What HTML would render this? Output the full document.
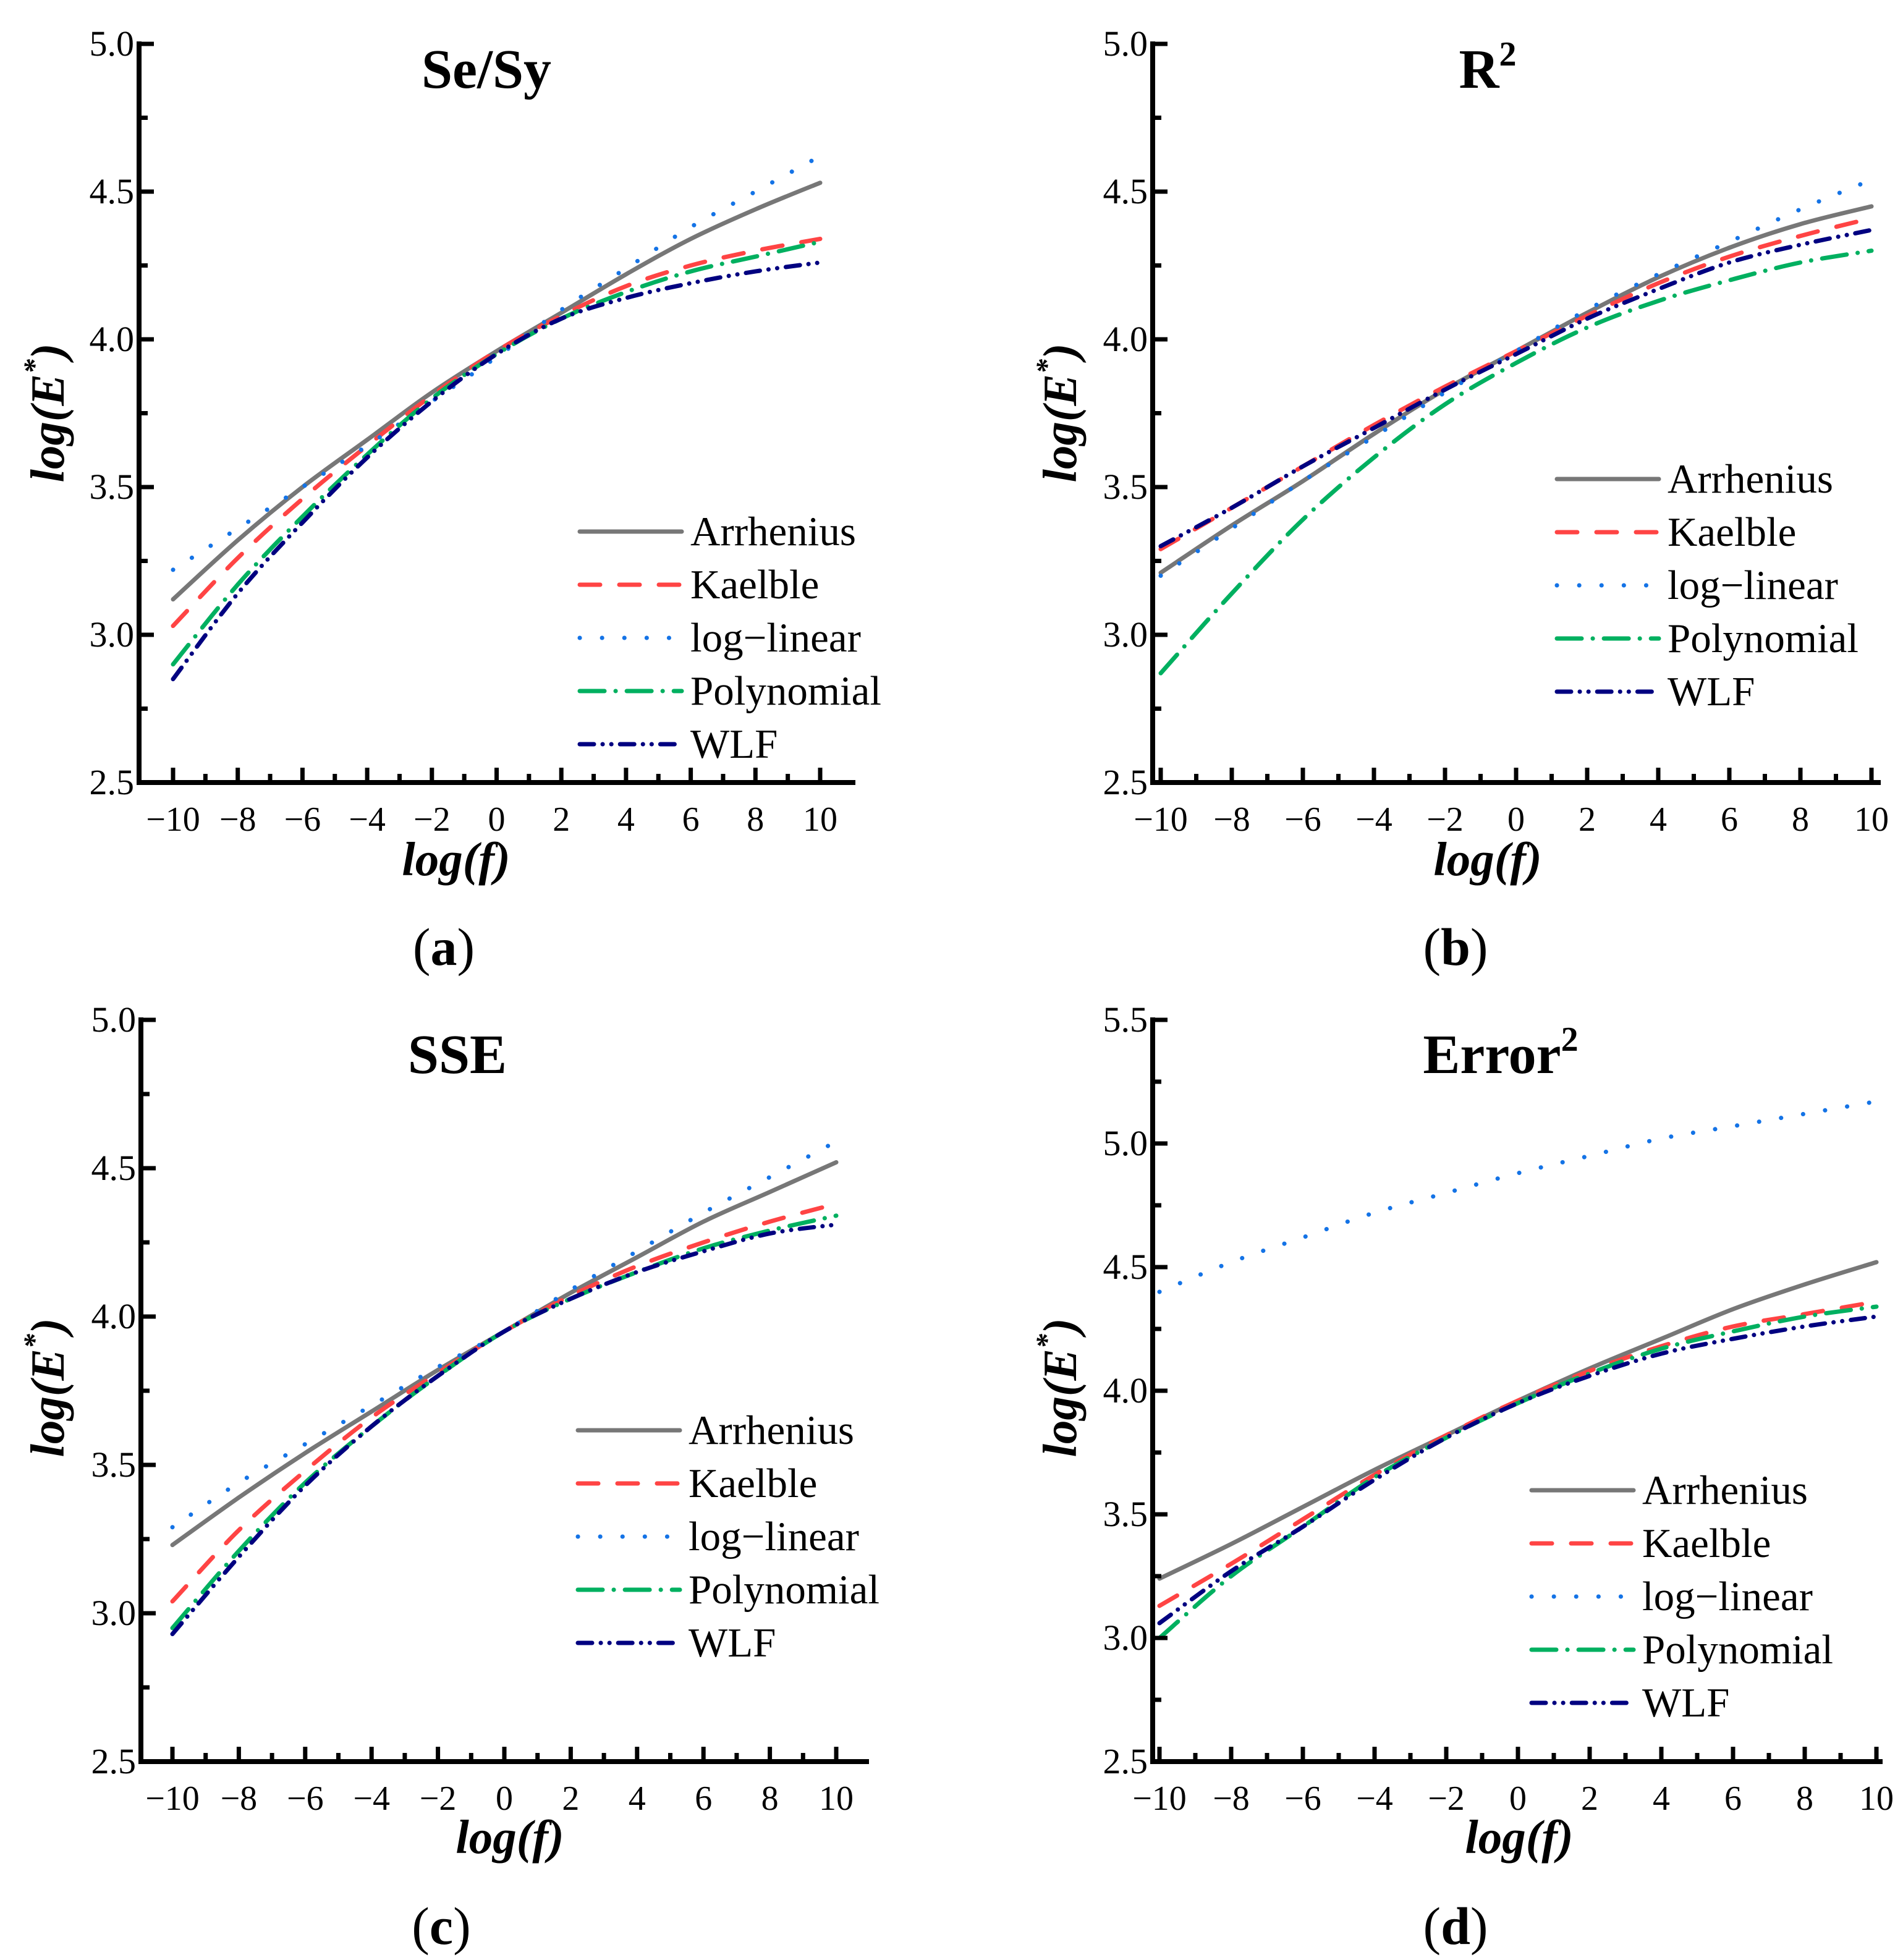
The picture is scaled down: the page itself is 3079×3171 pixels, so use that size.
<!DOCTYPE html>
<html><head><meta charset="utf-8"><style>
html,body{margin:0;padding:0;background:#fff;}
svg{display:block;}
text{font-family:"Liberation Serif",serif;fill:#000;}
</style></head><body>
<svg id="fig" width="3079" height="3171" viewBox="0 0 3079 3171" xmlns="http://www.w3.org/2000/svg"></svg>
<script>
const xValues = [-10,-8,-6,-4,-2,0,2,4,6,8,10];
const seriesNames = ["Arrhenius","Kaelble","log\u2212linear","Polynomial","WLF"];
const xTickLabels = ["\u221210","\u22128","\u22126","\u22124","\u22122","0","2","4","6","8","10"];
const yTicksA = ["2.5","3.0","3.5","4.0","4.5","5.0"];
const yTicksD = ["2.5","3.0","3.5","4.0","4.5","5.0","5.5"];
// panel a: Se/Sy
const aArrhenius = [3.12,3.32,3.50,3.66,3.82,3.96,4.09,4.22,4.34,4.44,4.53];
const aKaelble = [3.03,3.26,3.46,3.64,3.81,3.96,4.08,4.18,4.25,4.30,4.34];
const aLogLinear = [3.22,3.36,3.50,3.64,3.79,3.94,4.10,4.24,4.38,4.50,4.62];
const aPolynomial = [2.90,3.17,3.40,3.61,3.80,3.95,4.07,4.16,4.23,4.28,4.33];
const aWLF = [2.85,3.14,3.38,3.60,3.79,3.95,4.07,4.14,4.19,4.23,4.26];
// panel b: R2
const bArrhenius = [3.21,3.37,3.52,3.68,3.83,3.96,4.09,4.21,4.31,4.39,4.45];
const bKaelble = [3.29,3.43,3.57,3.71,3.84,3.96,4.08,4.19,4.28,4.35,4.41];
const bLogLinear = [3.20,3.36,3.52,3.67,3.82,3.96,4.10,4.22,4.33,4.44,4.54];
const bPolynomial = [2.87,3.14,3.39,3.60,3.78,3.92,4.04,4.13,4.20,4.26,4.30];
const bWLF = [3.30,3.43,3.57,3.70,3.83,3.95,4.07,4.17,4.26,4.32,4.37];
// panel c: SSE
const cArrhenius = [3.23,3.39,3.54,3.68,3.82,3.95,4.08,4.20,4.32,4.42,4.52];
const cKaelble = [3.04,3.28,3.48,3.66,3.81,3.95,4.07,4.17,4.25,4.32,4.38];
const cLogLinear = [3.29,3.44,3.57,3.70,3.83,3.95,4.09,4.22,4.35,4.47,4.59];
const cPolynomial = [2.95,3.21,3.44,3.63,3.80,3.95,4.06,4.15,4.23,4.29,4.34];
const cWLF = [2.93,3.19,3.43,3.63,3.80,3.95,4.06,4.15,4.22,4.28,4.31];
// panel d: Error2
const dArrhenius = [3.24,3.38,3.53,3.68,3.82,3.96,4.09,4.21,4.33,4.43,4.52];
const dKaelble = [3.13,3.30,3.48,3.66,3.82,3.96,4.08,4.18,4.26,4.31,4.36];
const dLogLinear = [4.40,4.52,4.62,4.72,4.80,4.88,4.95,5.02,5.07,5.12,5.17];
const dPolynomial = [3.00,3.25,3.45,3.65,3.81,3.95,4.07,4.17,4.24,4.30,4.34];
const dWLF = [3.06,3.27,3.45,3.64,3.81,3.95,4.06,4.15,4.21,4.26,4.30];

const NS = "http://www.w3.org/2000/svg";
const svg = document.getElementById('fig');
const styles = [
  {c:"#777777", d:""},
  {c:"#ff4444", d:"33 31"},
  {c:"#1473e6", d:"0.1 36"},
  {c:"#00b060", d:"40 18 0.1 18"},
  {c:"#000080", d:"23 14 0.1 14 0.1 14"}
];
function mk(tag, attrs, parent){
  const e = document.createElementNS(NS, tag);
  for (const k in attrs) e.setAttribute(k, attrs[k]);
  (parent||svg).appendChild(e);
  return e;
}
function smooth(pts){
  let d = "M"+pts[0][0]+","+pts[0][1];
  for (let i=0;i<pts.length-1;i++){
    const p0=pts[Math.max(0,i-1)], p1=pts[i], p2=pts[i+1], p3=pts[Math.min(pts.length-1,i+2)];
    const c1=[p1[0]+(p2[0]-p0[0])/6, p1[1]+(p2[1]-p0[1])/6];
    const c2=[p2[0]-(p3[0]-p1[0])/6, p2[1]-(p3[1]-p1[1])/6];
    d += " C"+c1[0].toFixed(1)+","+c1[1].toFixed(1)+" "+c2[0].toFixed(1)+","+c2[1].toFixed(1)+" "+p2[0].toFixed(1)+","+p2[1].toFixed(1);
  }
  return d;
}
function panel(P){
  const g = mk('g', {});
  
  
  const sx = v => P.x0 + (v+10)/20*(P.x1-P.x0);
  const sy = v => P.yb - (v-P.ymin)/(P.ymax-P.ymin)*(P.yb-P.yt);
  P.series.forEach((arr,si)=>{
    const pts = xValues.map((x,i)=>[sx(x), sy(arr[i])]);
    const p = mk('path', {d:smooth(pts), fill:"none", stroke:styles[si].c, "stroke-width":7, "stroke-linecap":"round", "stroke-dasharray":styles[si].d}, g);
    
    
  });
  const ax = mk('path', {d:"M"+P.ax+","+(P.yt-4)+" V"+P.yb+" H"+P.xend, fill:"none", stroke:"#000", "stroke-width":8}, g);
  
  
  for (let v=-10; v<=10; v++){
    const major = v%2===0;
    mk('line', {x1:sx(v), x2:sx(v), y1:P.yb, y2:P.yb-(major?24:14), stroke:"#000", "stroke-width":7}, g);
  }
  xValues.forEach((v,i)=>{
    const t = mk('text', {x:sx(v), y:P.yb+78, "font-size":56, "text-anchor":"middle"}, g);
    t.textContent = xTickLabels[i];
    
    
  });
  for (let v=P.ymin; v<=P.ymax+1e-6; v+=0.25){
    const major = Math.abs(v*2-Math.round(v*2))<1e-6;
    mk('line', {x1:P.ax, x2:P.ax+(major?24:14), y1:sy(v), y2:sy(v), stroke:"#000", "stroke-width":7}, g);
  }
  P.yLabels.forEach(lbl=>{
    const t = mk('text', {x:P.ax-8, y:sy(parseFloat(lbl))+19, "font-size":58, "text-anchor":"end"}, g);
    t.textContent = lbl;
    
    
  });
  const tt = mk('text', {x:P.tx, y:P.ty+31, "font-size":90, "font-weight":"bold", "text-anchor":"middle"}, g);
  tt.innerHTML = P.title;
  
  
  const xt = mk('text', {x:P.xtx, y:P.xty+24, "font-size":77, "font-weight":"bold", "font-style":"italic", "text-anchor":"middle"}, g);
  xt.textContent = "log(f)";
  
  
  const yt = mk('text', {x:0, y:0, "font-size":77, "font-weight":"bold", "font-style":"italic", "text-anchor":"middle", transform:"translate("+(P.ytx+26)+","+P.yty+") rotate(-90)"}, g);
  yt.innerHTML = 'log(<tspan>E</tspan><tspan dy="-32" font-size="48">*</tspan><tspan dy="32">)</tspan>';
  
  
  const pl = mk('text', {x:P.px, y:P.py+30, "font-size":86, "text-anchor":"middle"}, g);
  pl.innerHTML = '(<tspan font-weight="bold">'+P.id+'</tspan>)';
  
  
  const lg = mk('g', {}, g);
  
  
  seriesNames.forEach((n,si)=>{
    const y = P.ly + si*86;
    const e = mk('g', {}, lg);
    
    
    mk('line', {x1:P.lx, x2:P.lx+165, y1:y, y2:y, stroke:styles[si].c, "stroke-width":7, "stroke-linecap":"round", "stroke-dasharray":styles[si].d}, e);
    const t = mk('text', {x:P.lx+179, y:y+22, "font-size":67}, e);
    t.textContent = n;
  });
}
panel({id:"a", x0:280, x1:1327, xend:1384, ax:225, yt:71, yb:1266, ymin:2.5, ymax:5.0, yLabels:yTicksA,
  series:[aArrhenius,aKaelble,aLogLinear,aPolynomial,aWLF], title:"Se/Sy", tx:787, ty:111,
  xtx:738, xty:1392, ytx:77, yty:668, px:718, py:1531, lx:938, ly:860});
panel({id:"b", x0:1878, x1:3028, xend:3043, ax:1865, yt:71, yb:1266, ymin:2.5, ymax:5.0, yLabels:yTicksA,
  series:[bArrhenius,bKaelble,bLogLinear,bPolynomial,bWLF], title:'R<tspan dy="-36" font-size="56">2</tspan>', tx:2407, ty:111,
  xtx:2407, xty:1392, ytx:1715, yty:668, px:2355, py:1531, lx:2519, ly:775});
panel({id:"c", x0:279, x1:1353, xend:1406, ax:228, yt:1650, yb:2850, ymin:2.5, ymax:5.0, yLabels:yTicksA,
  series:[cArrhenius,cKaelble,cLogLinear,cPolynomial,cWLF], title:"SSE", tx:740, ty:1705,
  xtx:825, xty:2974, ytx:77, yty:2245, px:714, py:3115, lx:935, ly:2314});
panel({id:"d", x0:1876, x1:3036, xend:3046, ax:1865, yt:1650, yb:2850, ymin:2.5, ymax:5.5, yLabels:yTicksD,
  series:[dArrhenius,dKaelble,dLogLinear,dPolynomial,dWLF], title:'Error<tspan dy="-36" font-size="56">2</tspan>', tx:2428, ty:1705,
  xtx:2458, xty:2974, ytx:1715, yty:2245, px:2355, py:3115, lx:2478, ly:2411});
</script>
</body></html>
